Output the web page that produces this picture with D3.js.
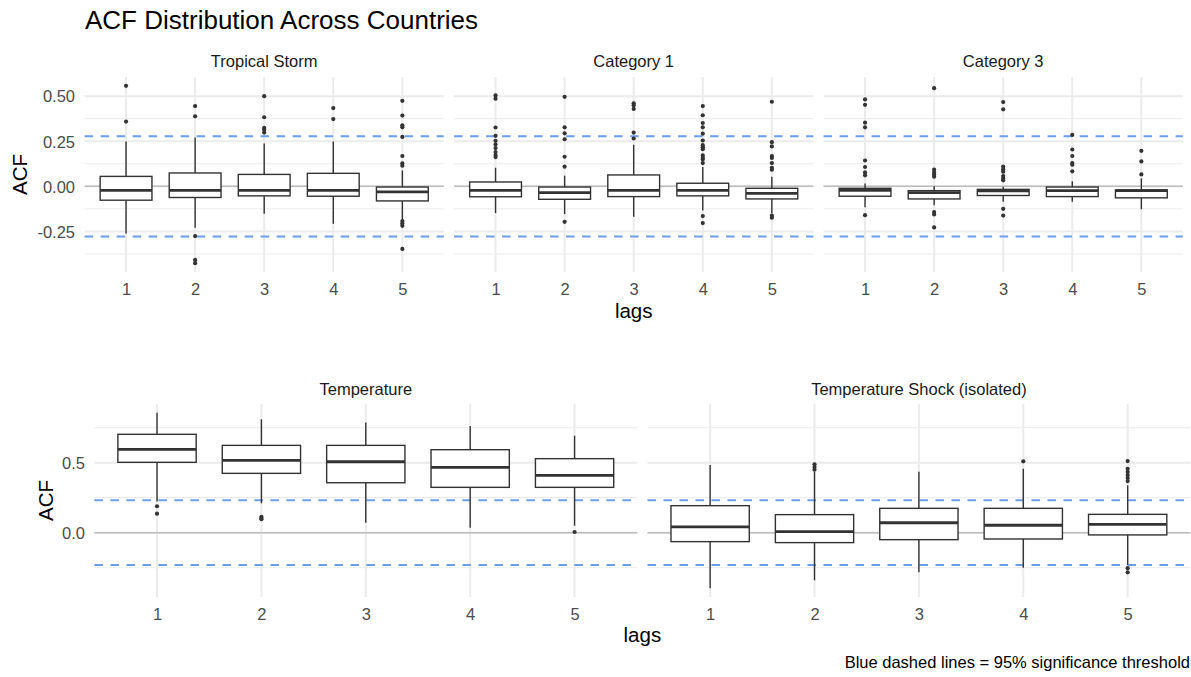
<!DOCTYPE html>
<html>
<head>
<meta charset="utf-8">
<script src="https://cdn.jsdelivr.net/npm/d3@7"></script>
<style>
  body { margin: 0; background: #ffffff; }
  svg { display: block; font-family: "Liberation Sans", Arial, Helvetica, sans-serif; }
</style>
</head>
<body>
<svg id="chart" width="1191" height="677"></svg>
<script>
// ---- data: ACF box-plot summaries by lag ----
const lags = ["1", "2", "3", "4", "5"];

const topPanelNames = ["Tropical Storm", "Category 1", "Category 3"];
const bottomPanelNames = ["Temperature", "Temperature Shock (isolated)"];

// Tropical Storm
const tsLower   = [-0.261, -0.230, -0.152, -0.207, -0.184];
const tsQ1      = [-0.077, -0.062, -0.053, -0.055, -0.081];
const tsMedian  = [-0.022, -0.022, -0.022, -0.022, -0.031];
const tsQ3      = [0.055, 0.074, 0.066, 0.072, -0.004];
const tsUpper   = [0.248, 0.270, 0.237, 0.248, 0.088];
const tsOutliers = [
  [0.557, 0.359],
  [0.445, 0.388, -0.276, -0.408, -0.426],
  [0.500, 0.383, 0.324, 0.313, 0.298],
  [0.434, 0.373],
  [0.474, 0.392, 0.338, 0.327, 0.274, 0.168, 0.127, 0.114, -0.193, -0.206, -0.219, -0.347]
];

// Category 1
const c1Lower   = [-0.149, -0.154, -0.169, -0.134, -0.150];
const c1Q1      = [-0.058, -0.072, -0.057, -0.053, -0.070];
const c1Median  = [-0.022, -0.035, -0.022, -0.022, -0.039];
const c1Q3      = [0.024, -0.004, 0.063, 0.017, -0.011];
const c1Upper   = [0.103, 0.059, 0.230, 0.107, 0.053];
const c1Outliers = [
  [0.504, 0.486, 0.326, 0.280, 0.252, 0.232, 0.212, 0.190, 0.173, 0.162],
  [0.496, 0.327, 0.294, 0.261, 0.164, 0.109, -0.197],
  [0.460, 0.449, 0.429, 0.298, 0.265],
  [0.445, 0.394, 0.351, 0.327, 0.292, 0.254, 0.228, 0.217, 0.206, 0.171, 0.158, 0.149, 0.129, -0.165, -0.204],
  [0.469, 0.245, 0.221, 0.168, 0.157, 0.129, 0.103, 0.092, -0.163, -0.174]
];

// Category 3
const c3Lower   = [-0.116, -0.105, -0.086, -0.086, -0.127];
const c3Q1      = [-0.055, -0.070, -0.051, -0.057, -0.064];
const c3Median  = [-0.022, -0.035, -0.025, -0.024, -0.024];
const c3Q3      = [-0.011, -0.024, -0.017, -0.004, -0.020];
const c3Upper   = [0.015, 0.000, -0.002, 0.028, 0.044];
const c3Outliers = [
  [0.482, 0.452, 0.353, 0.327, 0.143, 0.107, 0.077, 0.061, -0.160],
  [0.544, 0.092, 0.077, 0.065, 0.053, -0.143, -0.156, -0.228],
  [0.467, 0.427, 0.109, 0.094, 0.081, 0.057, 0.044, 0.033, -0.125, -0.162],
  [0.285, 0.204, 0.168, 0.129, 0.120, 0.083],
  [0.197, 0.138, 0.066]
];

// Temperature
const tempLower   = [0.222, 0.210, 0.071, 0.036, 0.050];
const tempQ1      = [0.503, 0.424, 0.357, 0.324, 0.324];
const tempMedian  = [0.596, 0.517, 0.507, 0.467, 0.410];
const tempQ3      = [0.703, 0.624, 0.624, 0.593, 0.529];
const tempUpper   = [0.857, 0.810, 0.788, 0.762, 0.693];
const tempOutliers = [
  [0.189, 0.136],
  [0.114, 0.105, 0.096],
  [],
  [],
  [0.005]
];

// Temperature Shock (isolated)
const shockLower   = [-0.397, -0.340, -0.283, -0.250, -0.231];
const shockQ1      = [-0.064, -0.071, -0.050, -0.045, -0.016];
const shockMedian  = [0.041, 0.007, 0.071, 0.053, 0.060];
const shockQ3      = [0.193, 0.129, 0.174, 0.174, 0.131];
const shockUpper   = [0.484, 0.436, 0.436, 0.457, 0.338];
const shockOutliers = [
  [],
  [0.489, 0.469, 0.450],
  [],
  [0.510],
  [0.512, 0.457, 0.434, 0.412, 0.391, 0.369, -0.254, -0.283]
];

// 95% significance thresholds (±) for each row
const topThreshold = 0.278;
const bottomThreshold = 0.231;

// axis breaks and labels
const topYBreaks = [-0.25, 0, 0.25, 0.5];
const topYLabels = ["-0.25", "0.00", "0.25", "0.50"];
const topYMinor = [-0.375, -0.125, 0.125, 0.375];
const bottomYBreaks = [0, 0.5];
const bottomYLabels = ["0.0", "0.5"];
const bottomYMinor = [-0.25, 0.25, 0.75];

const titleText = "ACF Distribution Across Countries";
const captionText = "Blue dashed lines = 95% significance threshold";

// ---- assemble per-panel records ----
function panelRows(lower, q1, median, q3, upper, outliers) {
  return lags.map((lag, i) => ({
    lag, lower: lower[i], q1: q1[i], median: median[i], q3: q3[i], upper: upper[i], outliers: outliers[i]
  }));
}

const topData = [
  panelRows(tsLower, tsQ1, tsMedian, tsQ3, tsUpper, tsOutliers),
  panelRows(c1Lower, c1Q1, c1Median, c1Q3, c1Upper, c1Outliers),
  panelRows(c3Lower, c3Q1, c3Median, c3Q3, c3Upper, c3Outliers)
];
const bottomData = [
  panelRows(tempLower, tempQ1, tempMedian, tempQ3, tempUpper, tempOutliers),
  panelRows(shockLower, shockQ1, shockMedian, shockQ3, shockUpper, shockOutliers)
];

// ---- styling ----
const FONT_TITLE = 26;
const FONT_STRIP = 16.5;
const FONT_TICK = 16.5;
const FONT_AXIS_TITLE = 20.5;
const GRID = "#ebebeb";
const BOX_LINE = "#333333";
const DASH = "#6d9eea";
const ZERO = "#bdbdbd";

const svg = d3.select("#chart");

// y-domain from the data with 5% padding on either side
function paddedExtent(rows, threshold) {
  const vals = [];
  rows.flat().forEach(d => { vals.push(d.lower, d.upper, ...d.outliers); });
  vals.push(threshold, -threshold);
  const [lo, hi] = d3.extent(vals);
  const pad = (hi - lo) * 0.05;
  return [lo - pad, hi + pad];
}

function drawRow(cfg) {
  const { rows, names, panelX, yTop, yBottom, threshold, yBreaks, yLabels, yMinor,
          stripBaseline, tickBaseline, lagsBaseline, acfX, tickRight } = cfg;

  const y = d3.scaleLinear().domain(paddedExtent(rows, threshold)).range([yBottom, yTop]);

  rows.forEach((data, p) => {
    const [x0, x1] = panelX[p];
    const x = d3.scalePoint().domain(lags).range([x0, x1]).padding(0.6);
    const boxW = x.step() * 0.75;
    const g = svg.append("g");

    // minor grid
    g.selectAll("line.minor").data(yMinor).join("line")
      .attr("x1", x0).attr("x2", x1)
      .attr("y1", d => y(d)).attr("y2", d => y(d))
      .attr("stroke", GRID).attr("stroke-width", 1);
    // major grid (y)
    g.selectAll("line.major").data(yBreaks).join("line")
      .attr("x1", x0).attr("x2", x1)
      .attr("y1", d => y(d)).attr("y2", d => y(d))
      .attr("stroke", GRID).attr("stroke-width", 2);
    // major grid (x)
    g.selectAll("line.vgrid").data(lags).join("line")
      .attr("x1", d => x(d)).attr("x2", d => x(d))
      .attr("y1", yTop).attr("y2", yBottom)
      .attr("stroke", GRID).attr("stroke-width", 2);

    // zero reference
    g.append("line")
      .attr("x1", x0).attr("x2", x1).attr("y1", y(0)).attr("y2", y(0))
      .attr("stroke", ZERO).attr("stroke-width", 1.6);

    // significance thresholds
    g.selectAll("line.sig").data([threshold, -threshold]).join("line")
      .attr("x1", x0).attr("x2", x1)
      .attr("y1", d => y(d)).attr("y2", d => y(d))
      .attr("stroke", DASH).attr("stroke-width", 2)
      .attr("stroke-dasharray", "8.5,7.5");

    // boxes
    const box = g.selectAll("g.box").data(data).join("g");
    box.append("line")
      .attr("x1", d => x(d.lag)).attr("x2", d => x(d.lag))
      .attr("y1", d => y(d.upper)).attr("y2", d => y(d.q3))
      .attr("stroke", BOX_LINE).attr("stroke-width", 1.4);
    box.append("line")
      .attr("x1", d => x(d.lag)).attr("x2", d => x(d.lag))
      .attr("y1", d => y(d.q1)).attr("y2", d => y(d.lower))
      .attr("stroke", BOX_LINE).attr("stroke-width", 1.4);
    box.append("rect")
      .attr("x", d => x(d.lag) - boxW / 2).attr("width", boxW)
      .attr("y", d => y(d.q3)).attr("height", d => y(d.q1) - y(d.q3))
      .attr("fill", "#ffffff").attr("stroke", BOX_LINE).attr("stroke-width", 1.4);
    box.append("line")
      .attr("x1", d => x(d.lag) - boxW / 2).attr("x2", d => x(d.lag) + boxW / 2)
      .attr("y1", d => y(d.median)).attr("y2", d => y(d.median))
      .attr("stroke", BOX_LINE).attr("stroke-width", 2.8);
    box.selectAll("circle").data(d => d.outliers.map(v => ({ lag: d.lag, v }))).join("circle")
      .attr("cx", d => x(d.lag)).attr("cy", d => y(d.v)).attr("r", 2.1)
      .attr("fill", BOX_LINE);

    // x axis labels
    const xAxis = d3.axisBottom(x).tickSize(0).tickPadding(0);
    const xa = g.append("g").attr("transform", `translate(0,${tickBaseline})`).call(xAxis);
    xa.select(".domain").remove();
    xa.selectAll("text").attr("dy", 0).attr("y", 0)
      .attr("font-size", FONT_TICK).attr("fill", "#4d4d4d")
      .attr("font-family", "Liberation Sans, Arial, sans-serif");

    // strip label
    g.append("text")
      .attr("x", (x0 + x1) / 2).attr("y", stripBaseline)
      .attr("text-anchor", "middle").attr("font-size", FONT_STRIP).attr("fill", "#1a1a1a")
      .text(names[p]);

    // y axis labels on the first panel only
    if (p === 0) {
      const yAxis = d3.axisLeft(y).tickValues(yBreaks)
        .tickFormat((d, i) => yLabels[i]).tickSize(0).tickPadding(0);
      const ya = svg.append("g").attr("transform", `translate(${tickRight},0)`).call(yAxis);
      ya.select(".domain").remove();
      ya.selectAll("text").attr("x", 0).attr("dy", "0.35em")
        .attr("font-size", FONT_TICK).attr("fill", "#4d4d4d")
        .attr("font-family", "Liberation Sans, Arial, sans-serif");
    }
  });

  // axis titles
  const left = panelX[0][0], right = panelX[panelX.length - 1][1];
  svg.append("text")
    .attr("x", (left + right) / 2).attr("y", lagsBaseline)
    .attr("text-anchor", "middle").attr("font-size", FONT_AXIS_TITLE).attr("fill", "#000")
    .text("lags");
  svg.append("text")
    .attr("transform", `translate(${acfX},${(yTop + yBottom) / 2}) rotate(-90)`)
    .attr("text-anchor", "middle").attr("font-size", FONT_AXIS_TITLE).attr("fill", "#000")
    .text("ACF");
}

// title
svg.append("text").attr("x", 85).attr("y", 28.5)
  .attr("font-size", FONT_TITLE).attr("fill", "#000").text(titleText);

drawRow({
  rows: topData, names: topPanelNames,
  panelX: [[84.6, 443.8], [454.1, 813.3], [823.6, 1182.8]],
  yTop: 77, yBottom: 272,
  threshold: topThreshold, yBreaks: topYBreaks, yLabels: topYLabels, yMinor: topYMinor,
  stripBaseline: 66.5, tickBaseline: 294.5, lagsBaseline: 317.5, acfX: 26.5, tickRight: 75
});

drawRow({
  rows: bottomData, names: bottomPanelNames,
  panelX: [[94.4, 637.2], [647.5, 1190.3]],
  yTop: 404, yBottom: 597,
  threshold: bottomThreshold, yBreaks: bottomYBreaks, yLabels: bottomYLabels, yMinor: bottomYMinor,
  stripBaseline: 395, tickBaseline: 619.5, lagsBaseline: 641.5, acfX: 52.5, tickRight: 85
});

// caption
svg.append("text").attr("x", 1190).attr("y", 668)
  .attr("text-anchor", "end").attr("font-size", FONT_TICK).attr("fill", "#000")
  .text(captionText);
</script>
</body>
</html>
